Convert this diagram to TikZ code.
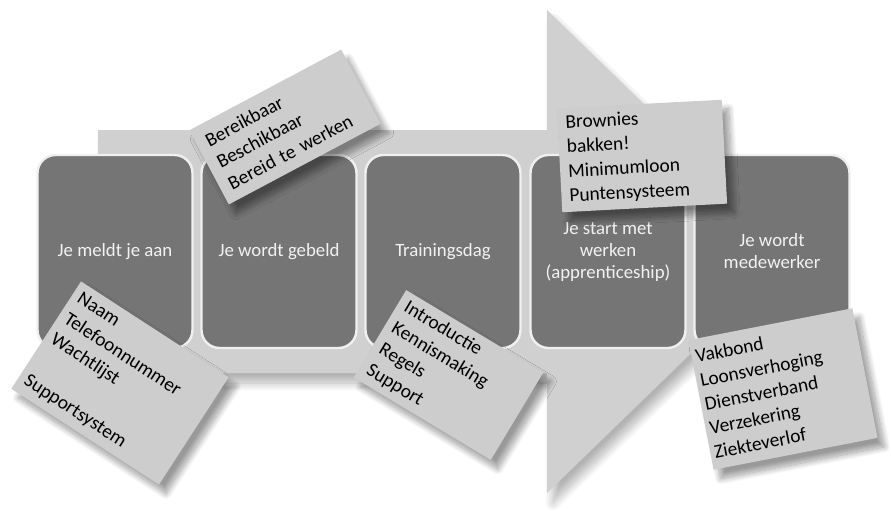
\documentclass[tikz,border=0pt]{standalone}
\usepackage{fontspec}
\setmainfont{Carlito}
\usetikzlibrary{shadows.blur}
\definecolor{arrowgray}{RGB}{208,208,208}
\definecolor{cardgray}{RGB}{205,205,205}
\definecolor{boxgray}{RGB}{117,117,117}

\begin{document}
\begin{tikzpicture}[x=0.5pt,y=-0.5pt,
    stagebox/.style={rectangle, rounded corners=9pt, draw=white!88!gray, line width=1.2pt,
        fill=boxgray, text=white!90!gray, minimum width=77.5pt, minimum height=96.5pt,
        align=center, font=\fontsize{9.4}{11}\selectfont},
    notecard/.style={rectangle, fill=cardgray, align=left, inner xsep=4pt, inner ysep=0pt,
        font=\fontsize{9.7}{12.2}\selectfont,
        blur shadow={shadow xshift=3.5pt, shadow yshift=-4.5pt, shadow blur radius=3pt,
            shadow blur steps=14, shadow opacity=40}}]
    \useasboundingbox (0,0) rectangle (891,510);
    % big arrow behind the steps
    \fill[arrowgray, blur shadow={shadow xshift=3pt, shadow yshift=-5pt, shadow blur radius=4pt,
            shadow blur steps=14, shadow opacity=30}]
        (98,130) -- (547,130) -- (547,10) -- (796,251.5) -- (547,493) -- (547,373) -- (98,373) -- cycle;
    % the five steps
    \node[stagebox] (meld) at (115,251.5) {Je meldt je aan};
    \node[stagebox] (gebeld) at (279,251.5) {Je wordt gebeld};
    \node[stagebox] (training) at (443,251.5) {Trainingsdag};
    \node[stagebox] (start) at (608,251.5) {Je start met\\werken\\(apprenticeship)};
    \node[stagebox] (medewerker) at (772,251.5) {Je wordt\\medewerker};
    % notes
    \node[notecard, rotate=28, minimum width=86pt, minimum height=42pt, text width=76pt, inner xsep=5pt] (bereik) at (285,127)
        {Bereikbaar\\Beschikbaar\\Bereid te werken};
    \node[notecard, rotate=3, minimum width=82.5pt, minimum height=52pt, text width=74.5pt] (brownies) at (642,156)
        {Brownies\\bakken!\\Minimumloon\\Puntensysteem};
    \node[notecard, rotate=-33, minimum width=88pt, minimum height=64pt, text width=81pt, inner xsep=3.5pt] (naam) at (120,383)
        {Naam\\Telefoonnummer\\Wachtlijst\\[12.2pt]Supportsystem};
    \node[notecard, rotate=-31, minimum width=80pt, minimum height=51pt, text width=72pt] (intro) at (448.5,375)
        {Introductie\\Kennismaking\\Regels\\Support};
    \node[notecard, rotate=11, minimum width=83.5pt, minimum height=66pt, text width=79.5pt, inner xsep=2pt] (vakbond) at (783,389)
        {Vakbond\\Loonsverhoging\\Dienstverband\\Verzekering\\Ziekteverlof};
\end{tikzpicture}
\end{document}
